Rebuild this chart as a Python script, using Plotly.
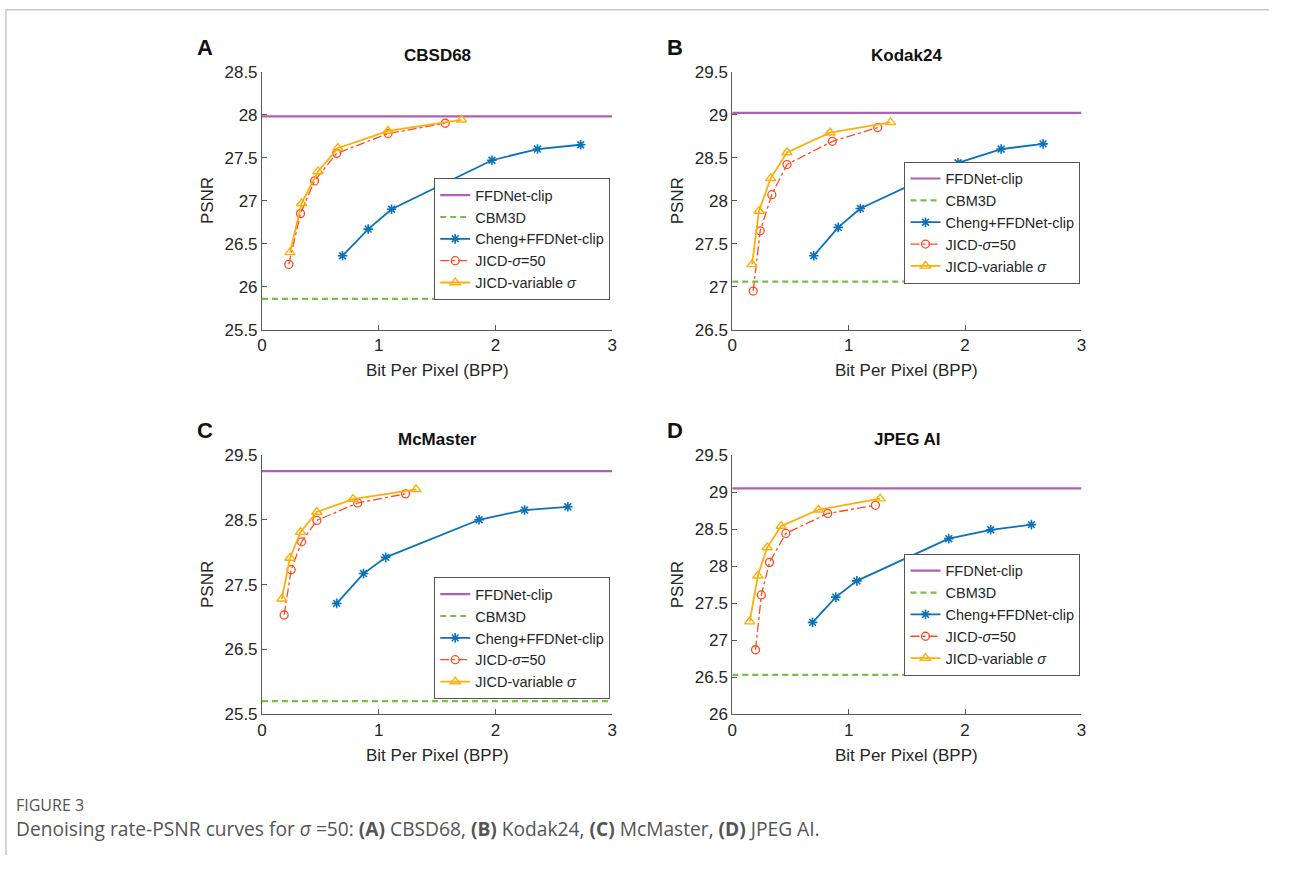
import plotly.graph_objects as go

# target page is 1290x881; the page body keeps an 8px margin around the figure,
# so positions are given in page pixels and shifted by OFF into figure coordinates
PAGE_W, PAGE_H = 1290, 881
OFF = 8
W, H = PAGE_W - 2 * OFF, PAGE_H - 2 * OFF

# ---------------- data ----------------
panels = ["A", "B", "C", "D"]
titles = ["CBSD68", "Kodak24", "McMaster", "JPEG AI"]

ffdnet_clip = [27.98, 29.02, 29.25, 29.05]
cbm3d = [25.86, 27.06, 25.70, 26.53]
hline_x = [0, 3]

cheng_x = [
    [0.69, 0.91, 1.11, 1.97, 2.36, 2.73],
    [0.70, 0.91, 1.10, 1.94, 2.31, 2.67],
    [0.64, 0.87, 1.06, 1.86, 2.25, 2.62],
    [0.69, 0.89, 1.07, 1.86, 2.22, 2.57],
]
cheng_y = [
    [26.36, 26.67, 26.90, 27.47, 27.60, 27.65],
    [27.36, 27.69, 27.91, 28.44, 28.60, 28.66],
    [27.21, 27.67, 27.92, 28.50, 28.65, 28.70],
    [27.24, 27.58, 27.80, 28.37, 28.49, 28.56],
]
jicd50_x = [
    [0.23, 0.33, 0.45, 0.64, 1.08, 1.57],
    [0.18, 0.24, 0.34, 0.47, 0.86, 1.25],
    [0.19, 0.25, 0.34, 0.47, 0.82, 1.23],
    [0.20, 0.25, 0.32, 0.46, 0.82, 1.23],
]
jicd50_y = [
    [26.26, 26.85, 27.23, 27.55, 27.78, 27.90],
    [26.95, 27.65, 28.07, 28.42, 28.69, 28.85],
    [27.03, 27.73, 28.16, 28.49, 28.76, 28.90],
    [26.87, 27.61, 28.05, 28.44, 28.71, 28.82],
]
jicdvar_x = [
    [0.24, 0.34, 0.48, 0.65, 1.08, 1.71],
    [0.17, 0.23, 0.33, 0.47, 0.84, 1.36],
    [0.17, 0.24, 0.33, 0.47, 0.78, 1.32],
    [0.15, 0.22, 0.30, 0.42, 0.74, 1.27],
]
jicdvar_y = [
    [26.40, 26.97, 27.34, 27.61, 27.81, 27.94],
    [27.26, 27.88, 28.26, 28.56, 28.79, 28.91],
    [27.28, 27.91, 28.31, 28.62, 28.82, 28.97],
    [27.25, 27.87, 28.25, 28.54, 28.76, 28.91],
]
y_ranges = [[25.5, 28.5], [26.5, 29.5], [25.5, 29.5], [26.0, 29.5]]
y_dtick = [0.5, 0.5, 1.0, 0.5]
y_tick0 = [0, 0, 0.5, 0]
x_ticks = [0, 1, 2, 3]

names = ["FFDNet-clip", "CBM3D", "Cheng+FFDNet-clip", "JICD-<i>σ</i>=50", "JICD-variable <i>σ</i>"]

# ---------------- layout geometry (page pixels) ----------------
# (left, right, top, bottom) of each plot area
boxes = [
    (267, 620, 72, 336),
    (741, 1093, 72, 336),
    (267, 620, 464, 729),
    (741, 1093, 464, 729),
]
# legend (right edge, top edge)
legend_pos = [(618, 181), (1092, 164), (618, 589), (1092, 565)]

C_PURPLE = "#B15FB4"
C_GREEN = "#77BF4A"
C_BLUE = "#0A72BA"
C_RED = "#FF4B1F"
C_ORANGE = "#FFAE0A"
AX = "#5a5a5a"
TXT = "#262626"
FONT = "Liberation Sans, Arial, sans-serif"

fig = go.Figure()
annotations = []

def px2x(p):
    return (p - OFF) / W

def px2y(p):
    return 1 - (p - OFF) / H

for i in range(4):
    xa = "x" if i == 0 else f"x{i+1}"
    ya = "y" if i == 0 else f"y{i+1}"
    lg = "legend" if i == 0 else f"legend{i+1}"
    common = dict(xaxis=xa, yaxis=ya, legend=lg, showlegend=True)
    fig.add_trace(go.Scatter(x=hline_x, y=[ffdnet_clip[i]] * 2, mode="lines", name=names[0],
                             line=dict(color=C_PURPLE, width=2.2), **common))
    fig.add_trace(go.Scatter(x=hline_x, y=[cbm3d[i]] * 2, mode="lines", name=names[1],
                             line=dict(color=C_GREEN, width=2.2, dash="6px,4px"), **common))
    fig.add_trace(go.Scatter(x=cheng_x[i], y=cheng_y[i], mode="lines+markers", name=names[2],
                             line=dict(color=C_BLUE, width=1.8),
                             marker=dict(symbol="asterisk-open", size=8, color=C_BLUE,
                                         line=dict(color=C_BLUE, width=1.6)), **common))
    fig.add_trace(go.Scatter(x=jicd50_x[i], y=jicd50_y[i], mode="lines+markers", name=names[3],
                             line=dict(color=C_RED, width=1.3, dash="dashdot"),
                             marker=dict(symbol="circle-open", size=8, color=C_RED,
                                         line=dict(color=C_RED, width=1.3)), **common))
    fig.add_trace(go.Scatter(x=jicdvar_x[i], y=jicdvar_y[i], mode="lines+markers", name=names[4],
                             line=dict(color=C_ORANGE, width=1.8),
                             marker=dict(symbol="triangle-up-open", size=9, color=C_ORANGE,
                                         line=dict(color=C_ORANGE, width=1.4)), **common))

    l, r, t, b = boxes[i]
    axis_style = dict(showline=True, linecolor=AX, linewidth=1, ticks="inside", ticklen=5,
                      tickcolor=AX, tickwidth=1, showgrid=False, zeroline=False, mirror=False,
                      tickfont=dict(family=FONT, size=17, color=TXT))
    fig.layout[f"xaxis{'' if i == 0 else i+1}"] = dict(
        domain=[px2x(l), px2x(r)], range=[0, 3], tickvals=x_ticks, anchor=ya, **axis_style)
    fig.layout[f"yaxis{'' if i == 0 else i+1}"] = dict(
        domain=[px2y(b), px2y(t)], range=y_ranges[i], dtick=y_dtick[i], tick0=y_tick0[i],
        anchor=xa, **axis_style)

    lx, ly = legend_pos[i]
    fig.layout[lg] = dict(x=px2x(lx), y=px2y(ly), xanchor="right", yanchor="top",
                          bgcolor="white", bordercolor="#555555", borderwidth=1,
                          font=dict(family=FONT, size=14.5, color=TXT), tracegroupgap=0,
                          itemwidth=30)

    # titles, panel letters, axis labels
    cx = (l + r) / 2
    annotations.append(dict(text=f"<b>{titles[i]}</b>", x=px2x(cx), y=px2y(t - 16), xref="paper",
                            yref="paper", showarrow=False, xanchor="center", yanchor="middle",
                            font=dict(family=FONT, size=17, color="#111111")))
    annotations.append(dict(text=f"<b>{panels[i]}</b>", x=px2x(l - 68), y=px2y(t - 25), xref="paper",
                            yref="paper", showarrow=False, xanchor="left", yanchor="middle",
                            font=dict(family=FONT, size=22, color="#111111")))
    annotations.append(dict(text="Bit Per Pixel (BPP)", x=px2x(cx), y=px2y(b + 42), xref="paper",
                            yref="paper", showarrow=False, xanchor="center", yanchor="middle",
                            font=dict(family=FONT, size=17, color=TXT)))
    annotations.append(dict(text="PSNR", x=px2x(l - 55), y=px2y((t + b) / 2),
                            xref="paper", yref="paper", showarrow=False, textangle=-90,
                            xanchor="center", yanchor="middle",
                            font=dict(family=FONT, size=17, color=TXT)))

annotations.append(dict(text="FIGURE 3", x=px2x(17), y=px2y(822), xref="paper", yref="paper",
                        showarrow=False, xanchor="left", yanchor="middle",
                        font=dict(family="Open Sans, sans-serif", size=16, color="#555555")))
annotations.append(dict(
    text="Denoising rate-PSNR curves for <i>σ</i> =50: <b>(A)</b> CBSD68, <b>(B)</b> Kodak24, "
         "<b>(C)</b> McMaster, <b>(D)</b> JPEG AI.",
    x=px2x(17), y=px2y(846), xref="paper", yref="paper", showarrow=False,
    xanchor="left", yanchor="middle",
    font=dict(family="Open Sans, sans-serif", size=19.2, color="#555555")))

shapes = [
    dict(type="line", xref="paper", yref="paper", x0=0.0008, x1=0.0008, y0=0, y1=1,
         line=dict(color="#c8c8c8", width=1.5)),
    dict(type="line", xref="paper", yref="paper", x0=0, x1=1, y0=0.999, y1=0.999,
         line=dict(color="#c8c8c8", width=1.5)),
]

fig.update_layout(width=W, height=H, margin=dict(l=0, r=0, t=0, b=0),
                  paper_bgcolor="white", plot_bgcolor="white",
                  annotations=annotations, shapes=shapes,
                  font=dict(family=FONT, color=TXT))

fig.write_html("out.html")
